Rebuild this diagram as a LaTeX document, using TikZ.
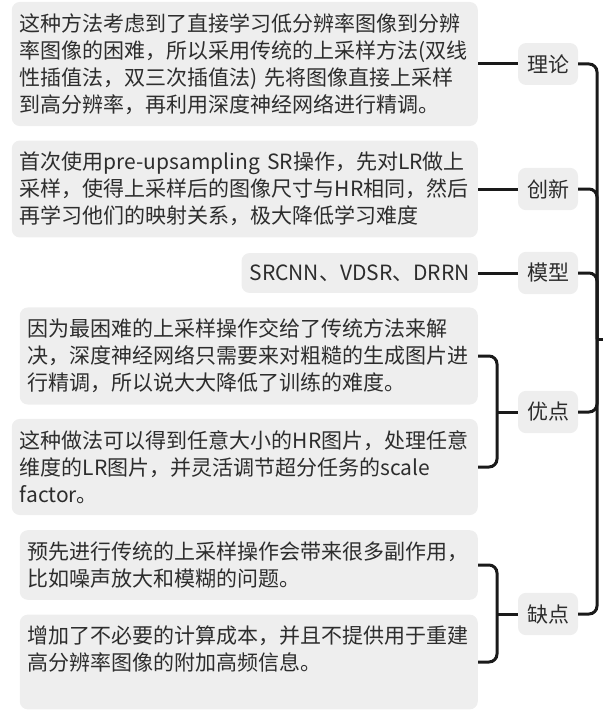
\documentclass[tikz,border=0pt]{standalone}
\usepackage{fontspec}
\newfontfamily\cjk{Noto Sans CJK SC}
\usetikzlibrary{positioning}
\definecolor{boxgray}{RGB}{238,238,238}
\definecolor{inkgray}{RGB}{45,45,45}
\definecolor{linkblack}{RGB}{26,26,26}
\tikzset{
    % 左侧文本框
    notebox/.style={
        fill=boxgray,
        rounded corners=8pt,
        text=inkgray,
        font=\cjk\fontsize{21}{27}\selectfont,
        inner xsep=8pt,
        inner ysep=11.5pt,
        align=left,
        anchor=east
    },
    % 右侧标签
    tagbox/.style={
        fill=boxgray,
        rounded corners=8pt,
        text=inkgray,
        font=\cjk\fontsize{21}{27}\selectfont,
        inner xsep=9pt,
        inner ysep=11.5pt
    },
    branch/.style={
        line width=3pt,
        linkblack,
        rounded corners=8pt
    }
}

\begin{document}
\begin{tikzpicture}[x=1pt,y=-1pt]
    \useasboundingbox (0,0) rectangle (603,717);
    % ===================== 文本 =====================
    \node[notebox, text width=450pt] (theory) at (478,64)
      {这种方法考虑到了直接学习低分辨率图像到分辨\\率图像的困难，所以采用传统的上采样方法(双线\\性插值法，双三次插值法) 先将图像直接上采样\\到高分辨率，再利用深度神经网络进行精调。};
    \node[notebox, text width=450pt] (novelty) at (478,189)
      {首次使用\mbox{pre-upsampling}~SR操作，先对LR做上\\采样，使得上采样后的图像尺寸与HR相同，然后\\再学习他们的映射关系，极大降低学习难度};
    \node[notebox] (models) at (478,273) {SRCNN、VDSR、DRRN};
    \node[notebox, text width=442pt] (adv1) at (478,356)
      {因为最困难的上采样操作交给了传统方法来解\\决，深度神经网络只需要来对粗糙的生成图片进\\行精调，所以说大大降低了训练的难度。};
    \node[notebox, text width=450pt] (adv2) at (478,467)
      {这种做法可以得到任意大小的HR图片，处理任意\\维度的LR图片，并灵活调节超分任务的scale\\factor。};
    \node[notebox, text width=442pt] (dis1) at (478,565)
      {预先进行传统的上采样操作会带来很多副作用，\\比如噪声放大和模糊的问题。};
    \node[notebox, text width=442pt] (dis2) at (478,662)
      {增加了不必要的计算成本，并且不提供用于重建\\高分辨率图像的附加高频信息。\\\mbox{}};

    % ===================== 标签 =====================
    \node[tagbox] (lilun) at (548,64) {理论};
    \node[tagbox] (chuangxin) at (548,189) {创新};
    \node[tagbox] (moxing) at (548,273) {模型};
    \node[tagbox] (youdian) at (548,412) {优点};
    \node[tagbox] (quedian) at (548,614) {缺点};

    \path
    (597,339) coordinate (trunk)
    (603,339) coordinate (root)
    (497,412) coordinate (advfork)
    (497,614) coordinate (disfork);

    % ===================== 连线 =====================
    \draw[branch] (theory.east) -- (lilun.west);
    \draw[branch] (novelty.east) -- (chuangxin.west);
    \draw[branch] (models.east) -- (moxing.west);
    \draw[branch] (adv1.east) -| (advfork) |- (adv2.east);
    \draw[branch] (advfork) -- (youdian.west);
    \draw[branch] (dis1.east) -| (disfork) |- (dis2.east);
    \draw[branch] (disfork) -- (quedian.west);
    \foreach \n in {lilun,chuangxin,moxing,youdian,quedian}
      \draw[branch] (\n.east) -| (trunk);
    \draw[branch] (trunk) -- (root);
\end{tikzpicture}
\end{document}
